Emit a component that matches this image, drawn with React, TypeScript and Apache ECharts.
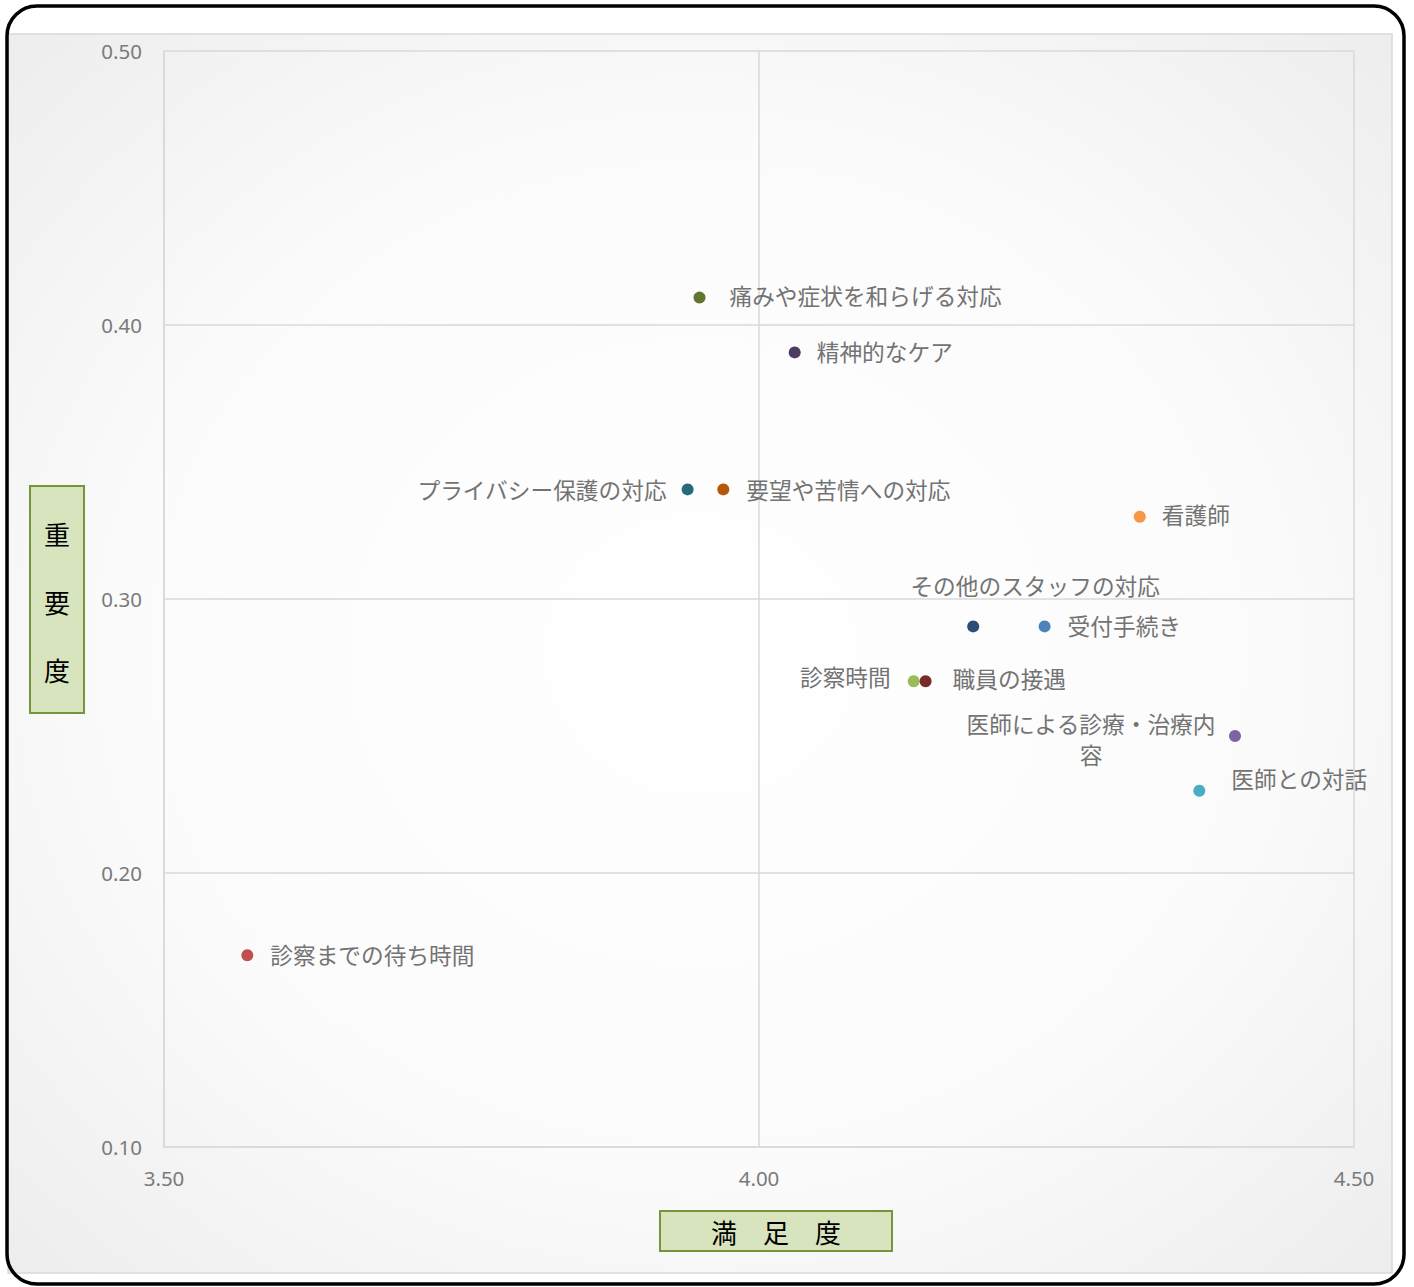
import React, { useEffect, useRef } from "react";
import * as echarts from "echarts";

const names = [
  "痛みや症状を和らげる対応",
  "精神的なケア",
  "プライバシー保護の対応",
  "要望や苦情への対応",
  "看護師",
  "その他のスタッフの対応",
  "受付手続き",
  "診察時間",
  "職員の接遇",
  "医師による診療・治療内\n容",
  "医師との対話",
  "診察までの待ち時間",
];
const satisfaction = [3.95, 4.03, 3.94, 3.97, 4.32, 4.18, 4.24, 4.13, 4.14, 4.40, 4.37, 3.57];
const importance = [0.41, 0.39, 0.34, 0.34, 0.33, 0.29, 0.29, 0.27, 0.27, 0.25, 0.23, 0.17];
const colors = [
  "#5f7530", "#4e3b62", "#276a7c", "#b65708", "#f79646", "#2c4d75",
  "#4f81bd", "#9bbb59", "#772c2a", "#8064a2", "#4bacc6", "#c0504d",
];
// label placement: [position, distance, offsetX, offsetY, align]
const labelPlace: [string, number, number, number, string | undefined][] = [
  ["right", 24, 0, -2, undefined],
  ["right", 16, 0, -1, undefined],
  ["left", 15, 0, 0, undefined],
  ["right", 17, 0, 0, undefined],
  ["right", 16, 0, -2, undefined],
  ["top", 20, 62, 1, undefined],
  ["right", 17, 0, -1, undefined],
  ["left", 17, 0, -5, undefined],
  ["right", 21, 0, -3, undefined],
  ["left", 138, 0, 3, "center"],
  ["right", 26, 0, -12, undefined],
  ["right", 17, 0, -1, undefined],
];
const xTicks = { min: 3.5, max: 4.5, interval: 0.5 };
const yTicks = { min: 0.1, max: 0.5, interval: 0.1 };

export default function App() {
  const ref = useRef<HTMLDivElement>(null);
  useEffect(() => {
    const chart = echarts.init(ref.current!, undefined, { renderer: "svg" });
    const data = names.map((n, i) => {
      const [pos, dist, ox, oy, align] = labelPlace[i];
      const label: any = {
        show: true,
        formatter: n,
        position: pos,
        distance: dist,
        offset: [ox, oy],
      };
      if (align) label.align = align;
      return {
        name: n,
        value: [satisfaction[i], importance[i]],
        itemStyle: { color: colors[i], opacity: 1 },
        label,
      };
    });
    const axisLabelStyle = {
      color: "#7a7a7a",
      fontSize: 20.5,
      fontFamily: "Noto Sans",
    };
    chart.setOption({
      animation: false,
      grid: { left: 164, right: 60, top: 51, bottom: 140, containLabel: false },
      xAxis: {
        type: "value",
        ...xTicks,
        axisLine: { show: true, lineStyle: { color: "#d9d9d9", width: 1.5 } },
        axisTick: { show: false },
        splitLine: { show: true, lineStyle: { color: "#d9d9d9", width: 1.5 } },
        axisLabel: { ...axisLabelStyle, margin: 20, formatter: (v: number) => v.toFixed(2) },
      },
      yAxis: {
        type: "value",
        ...yTicks,
        axisLine: { show: true, lineStyle: { color: "#d9d9d9", width: 1.5 } },
        axisTick: { show: false },
        splitLine: { show: true, lineStyle: { color: "#d9d9d9", width: 1.5 } },
        axisLabel: { ...axisLabelStyle, margin: 22, formatter: (v: number) => v.toFixed(2) },
      },
      series: [
        {
          type: "scatter",
          symbolSize: 12,
          data,
          itemStyle: { opacity: 1 },
          label: {
            color: "#737373",
            fontSize: 22.7,
            fontFamily: "Noto Sans CJK JP",
            lineHeight: 31,
          },
          emphasis: { disabled: true },
        },
      ],
      graphic: [
        {
          type: "rect",
          z: -10,
          silent: true,
          shape: { x: 8, y: 34, width: 1384, height: 1239 },
          style: {
            fill: new echarts.graphic.RadialGradient(0.5, 0.5, 0.75, [
              { offset: 0, color: "#ffffff" },
              { offset: 0.55, color: "#fbfbfb" },
              { offset: 1, color: "#ebebeb" },
            ]),
            stroke: "#d9d9d9",
            lineWidth: 1.5,
          },
        },
        {
          type: "rect",
          z: 100,
          silent: true,
          shape: { x: 30, y: 486, width: 54, height: 227 },
          style: { fill: "#d7e4bd", stroke: "#77933c", lineWidth: 2 },
        },
        {
          type: "text",
          z: 101,
          silent: true,
          x: 57,
          y: 601,
          style: {
            text: "重\n要\n度",
            fill: "#000000",
            font: '26px "Noto Sans CJK JP"',
            lineHeight: 68,
            align: "center",
            verticalAlign: "middle",
          },
        },
        {
          type: "rect",
          z: 100,
          silent: true,
          shape: { x: 660, y: 1211, width: 232, height: 40 },
          style: { fill: "#d7e4bd", stroke: "#77933c", lineWidth: 2 },
        },
        {
          type: "text",
          z: 101,
          silent: true,
          x: 776,
          y: 1231,
          style: {
            text: "満　足　度",
            fill: "#000000",
            font: '26px "Noto Sans CJK JP"',
            align: "center",
            verticalAlign: "middle",
          },
        },
        {
          type: "rect",
          z: 200,
          silent: true,
          shape: { x: 7, y: 6, width: 1397, height: 1278, r: 30 },
          style: { fill: "none", stroke: "#000000", lineWidth: 3.5 },
        },
      ],
    });
    return () => chart.dispose();
  }, []);
  return (
    <div
      ref={ref}
      style={{ position: "absolute", left: 0, top: 0, width: 1414, height: 1287 }}
    />
  );
}
